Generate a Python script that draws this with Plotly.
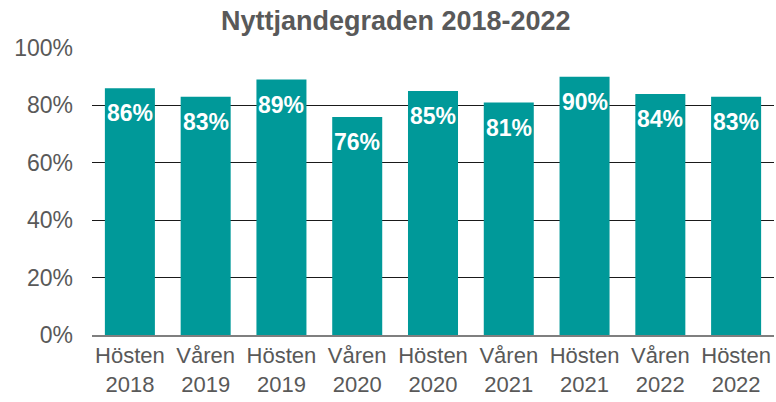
import plotly.graph_objects as go

terms = ["Hösten<br>2018", "Våren<br>2019", "Hösten<br>2019", "Våren<br>2020", "Hösten<br>2020",
         "Våren<br>2021", "Hösten<br>2021", "Våren<br>2022", "Hösten<br>2022"]
usage = [0.86, 0.83, 0.89, 0.76, 0.85, 0.81, 0.90, 0.84, 0.83]
y_ticks = [0, 0.2, 0.4, 0.6, 0.8, 1.0]

fig = go.Figure(go.Bar(
    x=terms,
    y=usage,
    marker=dict(color="#009999", line=dict(width=0)),
))

# value labels placed just below each bar top
for term, v in zip(terms, usage):
    fig.add_annotation(x=term, y=v, text=f"<b>{v:.0%}</b>", showarrow=False,
                       yanchor="middle", yshift=-25,
                       font=dict(family="Liberation Sans, Arial", size=23, color="white"))

fig.update_layout(
    width=776, height=402,
    margin=dict(l=92, r=2, t=48, b=67),
    paper_bgcolor="white", plot_bgcolor="white",
    bargap=0.34,
    showlegend=False,
    title=dict(text="<b>Nyttjandegraden 2018-2022</b>", x=0.51, xanchor="center", y=0.95, yanchor="middle",
               font=dict(family="Liberation Sans, Arial", size=27, color="#595959")),
    font=dict(family="Liberation Sans, Arial", size=22, color="#595959"),
)
fig.update_yaxes(range=[0, 1], tickvals=y_ticks, tickformat=".0%", showgrid=True,
                 gridcolor="#1a1a1a", gridwidth=1, zeroline=False, showline=False,
                 ticks="", ticklabelstandoff=18, automargin=False,
                 tickfont=dict(size=23, color="#595959"))
fig.update_xaxes(showline=True, linecolor="#7f7f7f", linewidth=1.5, ticks="",
                 ticklabelstandoff=0, automargin=False,
                 tickfont=dict(size=22, color="#595959"))

fig.write_html("out.html")
